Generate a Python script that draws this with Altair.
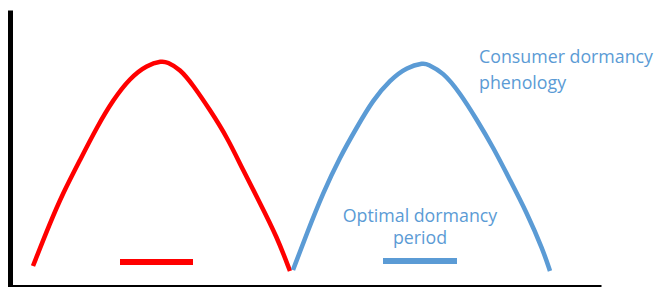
import altair as alt
import pandas as pd

# Curves (x: time units, y: abundance units)
red_x = [23, 40, 53, 70, 87, 103, 120, 137, 152, 157, 170, 183, 200, 217, 233, 250, 267, 280]
red_y = [25, 68, 98, 131, 164, 191, 213, 226, 230, 229, 222, 206, 181, 154, 121, 88, 54, 20]
blue_x = [283, 297, 313, 330, 347, 363, 380, 397, 414, 417, 433, 450, 467, 483, 500, 517, 533, 540]
blue_y = [21, 58, 98, 134, 164, 191, 211, 224, 228, 227, 219, 198, 171, 144, 111, 78, 41, 20]

# Dormancy period bars
series = ["red", "blue"]
period_start = [110, 373]
period_end = [183, 447]
period_level = [29, 30]

# Annotations
left_labels = ["Consumer dormancy", "phenology"]
left_label_x = [469, 469]
left_label_y = [228, 202]
center_labels = ["Optimal dormancy", "period"]
center_label_x = [410, 410]
center_label_y = [69, 47]

RED = "#FF0000"
BLUE = "#5B9BD5"

curves = pd.DataFrame({
    "x": red_x + blue_x,
    "y": red_y + blue_y,
    "series": ["red"] * len(red_x) + ["blue"] * len(blue_x),
    "order": list(range(len(red_x))) + list(range(len(blue_x))),
})
periods = pd.DataFrame({"series": series, "x": period_start, "x2": period_end, "y": period_level})
tl = pd.DataFrame({"x": left_label_x, "y": left_label_y, "t": left_labels})
tc = pd.DataFrame({"x": center_label_x, "y": center_label_y, "t": center_labels})

xs = alt.Scale(domain=[0, 591], nice=False, zero=False)
ys = alt.Scale(domain=[4, 281], nice=False, zero=False)
cs = alt.Scale(domain=series, range=[RED, BLUE])

lines = alt.Chart(curves).mark_line(strokeWidth=4.5, interpolate="basis", clip=False).encode(
    x=alt.X("x:Q", scale=xs, title=None),
    y=alt.Y("y:Q", scale=ys, title=None),
    color=alt.Color("series:N", scale=cs, legend=None),
    order="order:Q",
)

bars = alt.Chart(periods).mark_rule(strokeWidth=6, strokeCap="butt").encode(
    x=alt.X("x:Q", scale=xs, title=None),
    x2="x2:Q",
    y=alt.Y("y:Q", scale=ys, title=None),
    color=alt.Color("series:N", scale=cs, legend=None),
)

text_left = alt.Chart(tl).mark_text(
    align="left", baseline="alphabetic", font="Open Sans", fontSize=17.8, color=BLUE
).encode(
    x=alt.X("x:Q", scale=xs, title=None),
    y=alt.Y("y:Q", scale=ys, title=None),
    text="t:N",
)

text_center = alt.Chart(tc).mark_text(
    align="center", baseline="alphabetic", font="Open Sans", fontSize=17.8, color=BLUE
).encode(
    x=alt.X("x:Q", scale=xs, title=None),
    y=alt.Y("y:Q", scale=ys, title=None),
    text="t:N",
)

chart = alt.layer(lines, bars, text_left, text_center).properties(
    width=591,
    height=277,
    autosize=alt.AutoSizeParams(type="none"),
    padding={"left": 2, "top": 2, "right": 53, "bottom": 0},
).configure_axis(
    labels=False,
    ticks=False,
    grid=False,
    title=None,
    domainColor="#000000",
    domainWidth=5,
).configure_view(stroke=None)

chart.save("out.html", embed_options={"renderer": "svg", "actions": False})
